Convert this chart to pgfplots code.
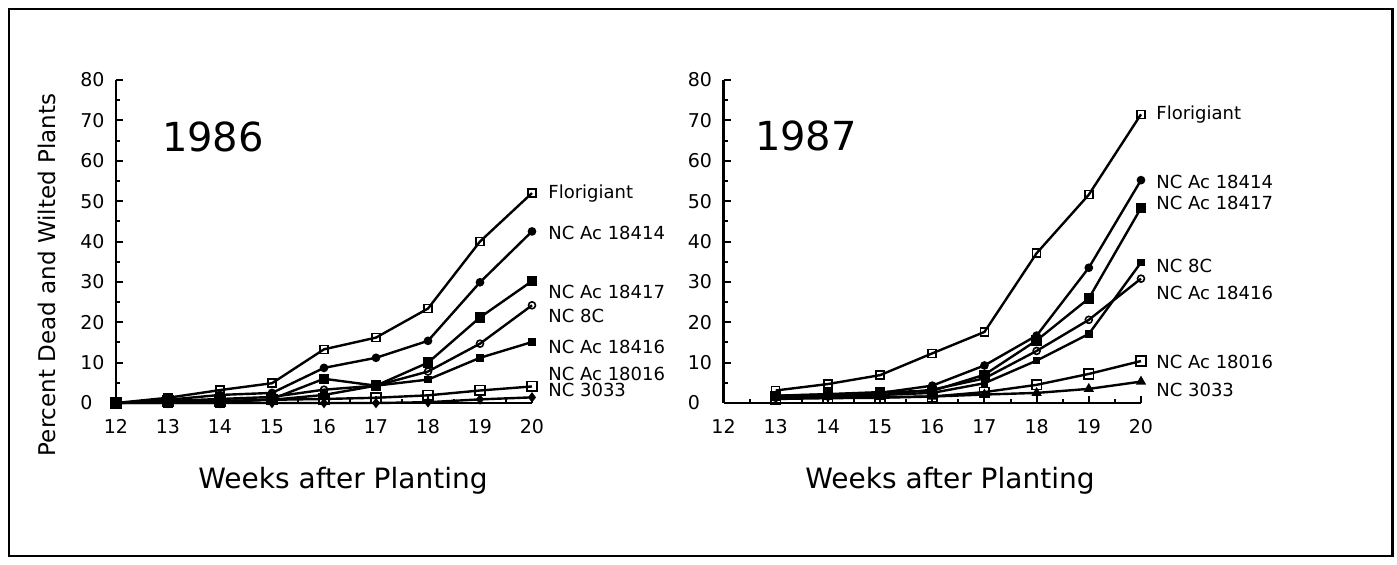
\documentclass[border=0pt]{standalone}
\usepackage{fontspec}
\setmainfont{DejaVu Sans}
\usepackage{pgfplots}
\pgfplotsset{compat=1.18}

\pgfplotsset{myax/.style={
  scale only axis, height=161.5pt, anchor=south west,
  xmin=12, xmax=20, ymin=0, ymax=80,
  axis x line*=bottom, axis y line*=left,
  axis line style={line width=1.1pt, -},
  xtick={12,...,20}, ytick={0,10,...,80},
  minor x tick num=1, minor y tick num=1,
  tick align=inside, major tick length=3.5pt, minor tick length=2pt,
  tick style={black, line width=1pt},
  /pgf/number format/assume math mode=true,
  ticklabel style={font=\fontsize{9.5}{11}\selectfont, inner sep=0pt},
  xticklabel style={anchor=north, yshift=-8pt},
  yticklabel style={anchor=west, xshift=-18pt},
  clip=false,
  every axis plot/.append style={black, line width=1.2pt, mark options={solid, line width=0.8pt}},
}}
\newcommand{\lbl}{\fontsize{9}{10}\selectfont}

\begin{document}
\begin{tikzpicture}
\useasboundingbox (0,0) rectangle (698.5pt,-282pt);
\draw[line width=1.2pt] (4.5pt,-4.5pt) rectangle (696.25pt,-278pt);

% ---------------- 1986 ----------------
\begin{axis}[myax, at={(58pt,-201.5pt)}, width=208pt]
\addplot[mark=square, mark size=2pt] coordinates {(12,0) (13,1.3) (14,3.2) (15,4.9) (16,13.3) (17,16.2) (18,23.4) (19,40) (20,52)};
\addplot[mark=*, mark size=1.75pt] coordinates {(12,0) (13,0.8) (14,2.0) (15,2.5) (16,8.7) (17,11.2) (18,15.4) (19,29.9) (20,42.5)};
\addplot[mark=square*, mark size=2.2pt] coordinates {(12,0) (13,0) (14,0) (15,1.0) (16,6.0) (17,4.3) (18,10.0) (19,21.2) (20,30.2)};
\addplot[mark=o, mark size=1.75pt] coordinates {(12,0) (13,0.5) (14,1.0) (15,1.5) (16,3.3) (17,4.3) (18,7.8) (19,14.7) (20,24.2)};
\addplot[mark=square*, mark size=1.5pt] coordinates {(12,0) (13,0.3) (14,0.5) (15,0.8) (16,2.0) (17,4.3) (18,5.8) (19,11.2) (20,15.1)};
\addplot[mark=square, mark size=2.4pt] coordinates {(12,0) (13,0.5) (14,0.5) (15,0.8) (16,1.0) (17,1.3) (18,1.9) (19,3.1) (20,4.1)};
\addplot[mark=diamond*, mark size=2pt] coordinates {(12,0) (13,0) (14,0) (15,0) (16,0) (17,0) (18,0.2) (19,0.9) (20,1.4)};
\end{axis}

% ---------------- 1987 ----------------
\begin{axis}[myax, at={(361.75pt,-201.5pt)}, width=208.75pt]
\addplot[mark=square, mark size=2pt] coordinates {(13,3.1) (14,4.7) (15,6.9) (16,12.3) (17,17.6) (18,37.1) (19,51.6) (20,71.5)};
\addplot[mark=*, mark size=1.75pt] coordinates {(13,1.8) (14,2.1) (15,2.5) (16,4.3) (17,9.3) (18,16.7) (19,33.5) (20,55.2)};
\addplot[mark=square*, mark size=2.2pt] coordinates {(13,1.8) (14,2.2) (15,2.7) (16,3.0) (17,7.0) (18,15.5) (19,25.9) (20,48.3)};
\addplot[mark=square*, mark size=1.5pt] coordinates {(13,1.5) (14,1.8) (15,2.0) (16,2.5) (17,4.9) (18,10.5) (19,17.1) (20,34.8)};
\addplot[mark=o, mark size=1.75pt] coordinates {(13,1.3) (14,1.6) (15,1.9) (16,3.3) (17,6.1) (18,12.9) (19,20.6) (20,30.8)};
\addplot[mark=square, mark size=2.4pt] coordinates {(13,1.0) (14,1.2) (15,1.3) (16,1.6) (17,2.7) (18,4.5) (19,7.2) (20,10.4)};
\addplot[mark=triangle*, mark size=2.2pt] coordinates {(13,1.5) (14,1.5) (15,1.5) (16,1.6) (17,2.1) (18,2.5) (19,3.5) (20,5.3)};
\end{axis}

% titles and axis labels
\node[font=\fontsize{20}{22}\selectfont] at (106.5pt,-68.5pt) {1986};
\node[font=\fontsize{20}{22}\selectfont] at (403pt,-68pt) {1987};
\node[anchor=base, font=\fontsize{14}{16}\selectfont] at (171.5pt,-244.15pt) {Weeks after Planting};
\node[anchor=base, font=\fontsize{14}{16}\selectfont] at (475pt,-244.15pt) {Weeks after Planting};
\node[rotate=90, font=\fontsize{11.5}{13}\selectfont] at (23.5pt,-137.5pt) {Percent Dead and Wilted Plants};

% series labels 1986
\begin{scope}[every node/.style={anchor=base west, inner sep=0pt, font=\lbl}]
\node at (274pt,-99.25pt) {Florigiant};
\node at (274pt,-119.75pt) {NC Ac 18414};
\node at (274pt,-149.25pt) {NC Ac 18417};
\node at (274pt,-161.25pt) {NC 8C};
\node at (274pt,-176.75pt) {NC Ac 18416};
\node at (274pt,-190.25pt) {NC Ac 18016};
\node at (274pt,-198.25pt) {NC 3033};
% series labels 1987
\node at (578pt,-59.75pt) {Florigiant};
\node at (578pt,-94.25pt) {NC Ac 18414};
\node at (578pt,-104.75pt) {NC Ac 18417};
\node at (578pt,-136.25pt) {NC 8C};
\node at (578pt,-149.75pt) {NC Ac 18416};
\node at (578pt,-184.25pt) {NC Ac 18016};
\node at (578pt,-198.25pt) {NC 3033};
\end{scope}
\end{tikzpicture}
\end{document}
